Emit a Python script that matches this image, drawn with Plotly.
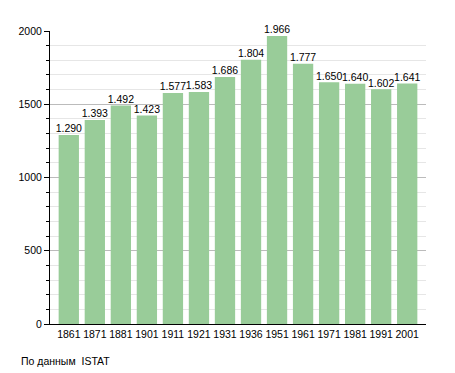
import plotly.graph_objects as go

years = ["1861", "1871", "1881", "1901", "1911", "1921", "1931", "1936", "1951", "1961", "1971", "1981", "1991", "2001"]
population = [1290, 1393, 1492, 1423, 1577, 1583, 1686, 1804, 1966, 1777, 1650, 1640, 1602, 1641]
y_ticks = [0, 500, 1000, 1500, 2000]
source_note = "По данным  ISTAT"

labels = [f"{v:,}".replace(",", ".") for v in population]

fig = go.Figure()
fig.add_trace(go.Bar(
    x=years, y=population,
    marker=dict(color="#99cc99", line=dict(width=0)),
    width=0.78, hoverinfo="x+y",
))
fig.add_trace(go.Scatter(
    x=years, y=population, mode="text", text=labels,
    textposition="top center", textfont=dict(size=10.5, color="black"),
    cliponaxis=False, hoverinfo="skip",
))

# page body has an 8px default margin, so the figure is placed at (8, 8)
fig.update_layout(
    width=447, height=365,
    margin=dict(l=42, r=29, t=23, b=49, autoexpand=False),
    plot_bgcolor="white", paper_bgcolor="white",
    font=dict(family="Liberation Sans, Arial, sans-serif", size=10, color="black"),
    showlegend=False,
    xaxis=dict(showline=True, linecolor="black", linewidth=1, ticks="", tickfont=dict(size=10.5),
               automargin=False, tickangle=0),
    yaxis=dict(range=[0, 2000], tickvals=y_ticks, showline=True, linecolor="black", linewidth=1,
               ticks="outside", ticklen=5, tickcolor="black",
               showgrid=True, gridcolor="#bbbbbb", gridwidth=1,
               minor=dict(dtick=100, ticks="outside", ticklen=3, tickcolor="black", showgrid=True, gridcolor="#e6e6e6"),
               tickfont=dict(size=10.5), zeroline=False, automargin=False),
    annotations=[dict(text=source_note, x=-31/376, y=-45/293, xref="paper", yref="paper", showarrow=False,
                      xanchor="left", yanchor="bottom", font=dict(size=10.5))],
)
fig.write_html("out.html")
